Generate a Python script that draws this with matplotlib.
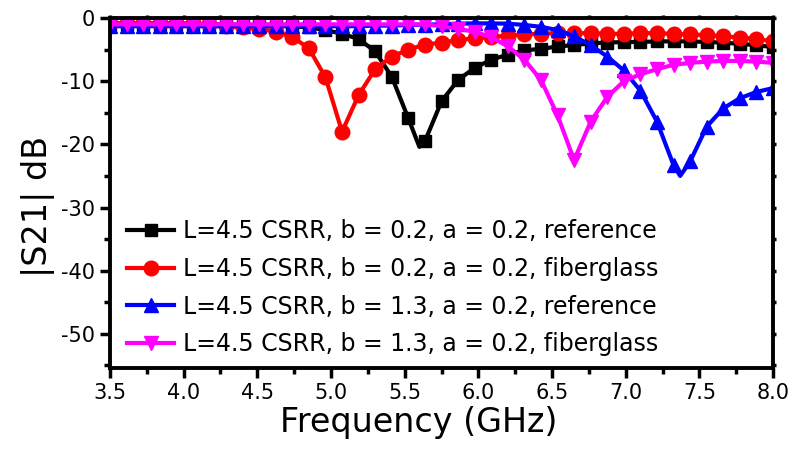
import numpy as np
import matplotlib
matplotlib.use("Agg")
import matplotlib.pyplot as plt
from matplotlib.ticker import MultipleLocator, FormatStrFormatter

plt.rcParams['font.family'] = ['DejaVu Sans']
plt.rcParams['axes.unicode_minus'] = False

freq = np.linspace(3.5, 8.0, 41)

labels = [
    "L=4.5 CSRR, b = 0.2, a = 0.2, reference",
    "L=4.5 CSRR, b = 0.2, a = 0.2, fiberglass",
    "L=4.5 CSRR, b = 1.3, a = 0.2, reference",
    "L=4.5 CSRR, b = 1.3, a = 0.2, fiberglass",
]

s21_b02_ref = [-1.0, -1.0, -1.0, -1.0, -1.0, -1.0, -1.0, -1.05, -1.1, -1.15,
               -1.2, -1.3, -1.5, -1.9, -2.5, -3.3, -5.3, -9.3, -15.9, -19.5,
               -13.2, -9.8, -7.9, -6.6, -5.8, -5.1, -4.9, -4.5, -4.3, -4.0,
               -3.9, -3.8, -3.8, -3.7, -3.7, -3.7, -3.8, -3.9, -4.1, -4.3, -4.6]
s21_b02_fib = [-0.8, -0.8, -0.8, -0.8, -0.8, -0.85, -1.0, -1.3, -1.5, -1.7,
               -2.2, -3.0, -4.8, -9.4, -18.0, -12.2, -8.1, -6.1, -5.0, -4.2,
               -3.9, -3.5, -3.2, -3.0, -2.8, -2.6, -2.5, -2.4, -2.4, -2.4,
               -2.5, -2.5, -2.4, -2.4, -2.5, -2.6, -2.7, -2.9, -3.1, -3.3, -3.7]
s21_b13_ref = [-1.3, -1.3, -1.3, -1.3, -1.3, -1.3, -1.3, -1.3, -1.3, -1.3,
               -1.3, -1.3, -1.3, -1.3, -1.3, -1.3, -1.2, -1.2, -1.1, -1.05,
               -1.0, -0.9, -0.85, -0.85, -0.9, -1.1, -1.4, -1.9, -2.9, -4.3,
               -6.1, -8.3, -11.5, -16.4, -23.3, -22.7, -17.2, -14.3, -12.7, -11.7, -11.1]
s21_b13_fib = [-1.0, -1.0, -1.0, -1.0, -1.0, -1.0, -1.0, -1.0, -1.0, -1.0,
               -1.0, -1.0, -1.0, -1.0, -1.0, -1.0, -1.0, -1.0, -1.0, -1.0,
               -1.3, -1.7, -2.2, -3.0, -4.5, -6.6, -9.8, -15.4, -22.5, -16.4,
               -12.5, -10.0, -8.9, -8.1, -7.4, -7.1, -6.9, -6.8, -6.8, -6.9, -7.1]

# line minima read between markers (drawn as line only)
dip_b02_ref = (5.60, -20.4)
dip_b13_ref = (7.37, -25.0)

fig = plt.figure(figsize=(7.93, 4.49), dpi=100)
ax = fig.add_axes([0.1387, 0.1804, 0.9748 - 0.1387, 0.9599 - 0.1804])

def with_dip(y, dip):
    x = np.asarray(freq)
    y = np.asarray(y, dtype=float)
    if dip is None:
        return x, y, None
    k = int(np.searchsorted(x, dip[0]))
    x2 = np.insert(x, k, dip[0])
    y2 = np.insert(y, k, dip[1])
    me = [j for j in range(len(x2)) if j != k]
    return x2, y2, me

series = [
    (s21_b02_ref, dip_b02_ref, '#000000', 's', 8.5),
    (s21_b02_fib, None, '#ff0000', 'o', 10.5),
    (s21_b13_ref, dip_b13_ref, '#0000ff', '^', 10),
    (s21_b13_fib, None, '#ff00ff', 'v', 10),
]
for (y, dip, c, m, ms), lab in zip(series, labels):
    x2, y2, me = with_dip(y, dip)
    ax.plot(x2, y2, color=c, marker=m, markersize=ms, lw=3.0,
            markevery=me, label=lab, solid_joinstyle='round')

ax.set_xlim(3.5, 8.0)
ax.set_ylim(-55.4, 0)
ax.xaxis.set_major_locator(MultipleLocator(0.5))
ax.xaxis.set_minor_locator(MultipleLocator(0.25))
ax.yaxis.set_major_locator(MultipleLocator(10))
ax.yaxis.set_minor_locator(MultipleLocator(5))
ax.xaxis.set_major_formatter(FormatStrFormatter('%.1f'))

for sp in ax.spines.values():
    sp.set_linewidth(2.8)

ax.tick_params(which='major', direction='out', length=7, width=2.5,
               labelsize=15, pad=4)
ax.tick_params(which='minor', direction='out', length=4, width=2.5)
ax.tick_params(which='both', top=True, right=True, labeltop=False, labelright=False)
for t in ax.xaxis.get_major_ticks() + ax.xaxis.get_minor_ticks():
    t.tick2line.set_markersize(2.5)
for t in ax.yaxis.get_major_ticks() + ax.yaxis.get_minor_ticks():
    t.tick2line.set_markersize(2.5)

ax.set_xlabel("Frequency (GHz)", fontsize=24, labelpad=2)
ax.set_ylabel("|S21| dB", fontsize=24, labelpad=4)
ax.xaxis.label.set_x(0.465)
ax.yaxis.label.set_y(0.463)

leg = ax.legend(loc='lower left', frameon=False, fontsize=17,
                handlelength=2.0, handletextpad=0.35, labelspacing=0.58,
                borderpad=0.2, borderaxespad=0.3, bbox_to_anchor=(0.008, 0.0))

fig.savefig("out.png", dpi=100)
